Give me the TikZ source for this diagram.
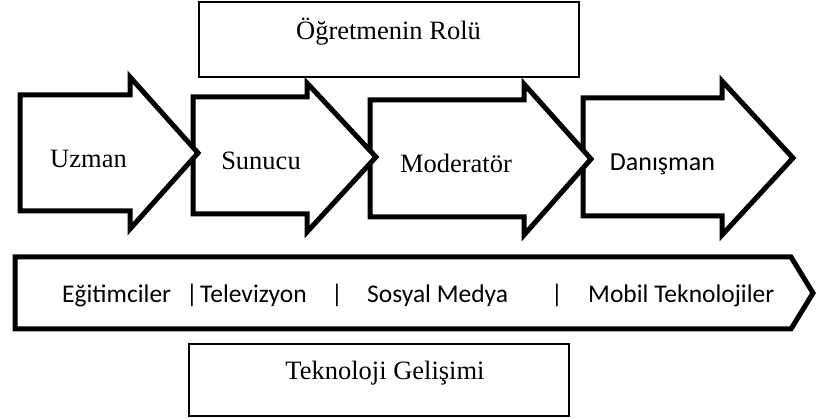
\documentclass[tikz,border=0pt]{standalone}
\usepackage{fontspec}
\setmainfont{Liberation Serif}
\newfontfamily\calfont{Carlito}
\begin{document}
\begin{tikzpicture}[x=1pt,y=-1pt,
  bigarrow/.style={draw=black,fill=white,line width=5pt,line join=miter,miter limit=10},
  thinbox/.style={draw=black,line width=1.2pt},
  serif/.style={font=\fontsize{26.5}{30}\selectfont,inner sep=0pt,anchor=base},
  sanslab/.style={font=\calfont\fontsize{25.5}{29}\selectfont,inner sep=0pt,anchor=base west},
  sansbar/.style={font=\calfont\fontsize{25.5}{29}\selectfont,inner sep=0pt,anchor=base}]
\useasboundingbox (0,0) rectangle (819,419);
% top box
\draw[thinbox] (199,2) rectangle (579,77);
\node[serif] (rol) at (388.5,40) {Öğretmenin Rolü};
% arrows (later first so earlier ones lie on top)
\draw[bigarrow] (583,98) -- (722,98) -- (722,81) -- (793,158) -- (722,235) -- (722,216) -- (583,216) -- cycle;
\draw[bigarrow] (370,100) -- (524,100) -- (524,84) -- (591,159) -- (524,235) -- (524,217) -- (370,217) -- cycle;
\draw[bigarrow] (193,97) -- (307,97) -- (307,83) -- (376,157) -- (307,232) -- (307,214) -- (193,214) -- cycle;
\draw[bigarrow] (20,95) -- (130,95) -- (130,77) -- (198,153) -- (130,229) -- (130,211) -- (20,211) -- cycle;
\node[serif] (uzman) at (88.5,168) {Uzman};
\node[serif] (sunucu) at (261,170) {Sunucu};
\node[serif] (moderator) at (456,173) {Moderatör};
\node[font=\calfont\fontsize{26}{30}\selectfont,inner sep=0pt,anchor=base] (danisman) at (662.5,171) {Danışman};
% bottom bar
\draw[bigarrow] (15,257) -- (791,257) -- (813,293) -- (791,329) -- (15,329) -- cycle;
\node[sanslab] (egit) at (62,303) {Eğitimciler};
\node[sansbar] (bar1) at (192,303) {|};
\node[sanslab] (tv) at (200,303) {Televizyon};
\node[sansbar] (bar2) at (337,303) {|};
\node[sanslab] (sosyal) at (367,303) {Sosyal Medya};
\node[sansbar] (bar3) at (557,303) {|};
\node[sanslab] (mobil) at (588,303) {Mobil Teknolojiler};
% bottom box
\draw[thinbox] (189,344) rectangle (569,416);
\node[serif] (tek) at (385,379) {Teknoloji Gelişimi};
\end{tikzpicture}
\end{document}
